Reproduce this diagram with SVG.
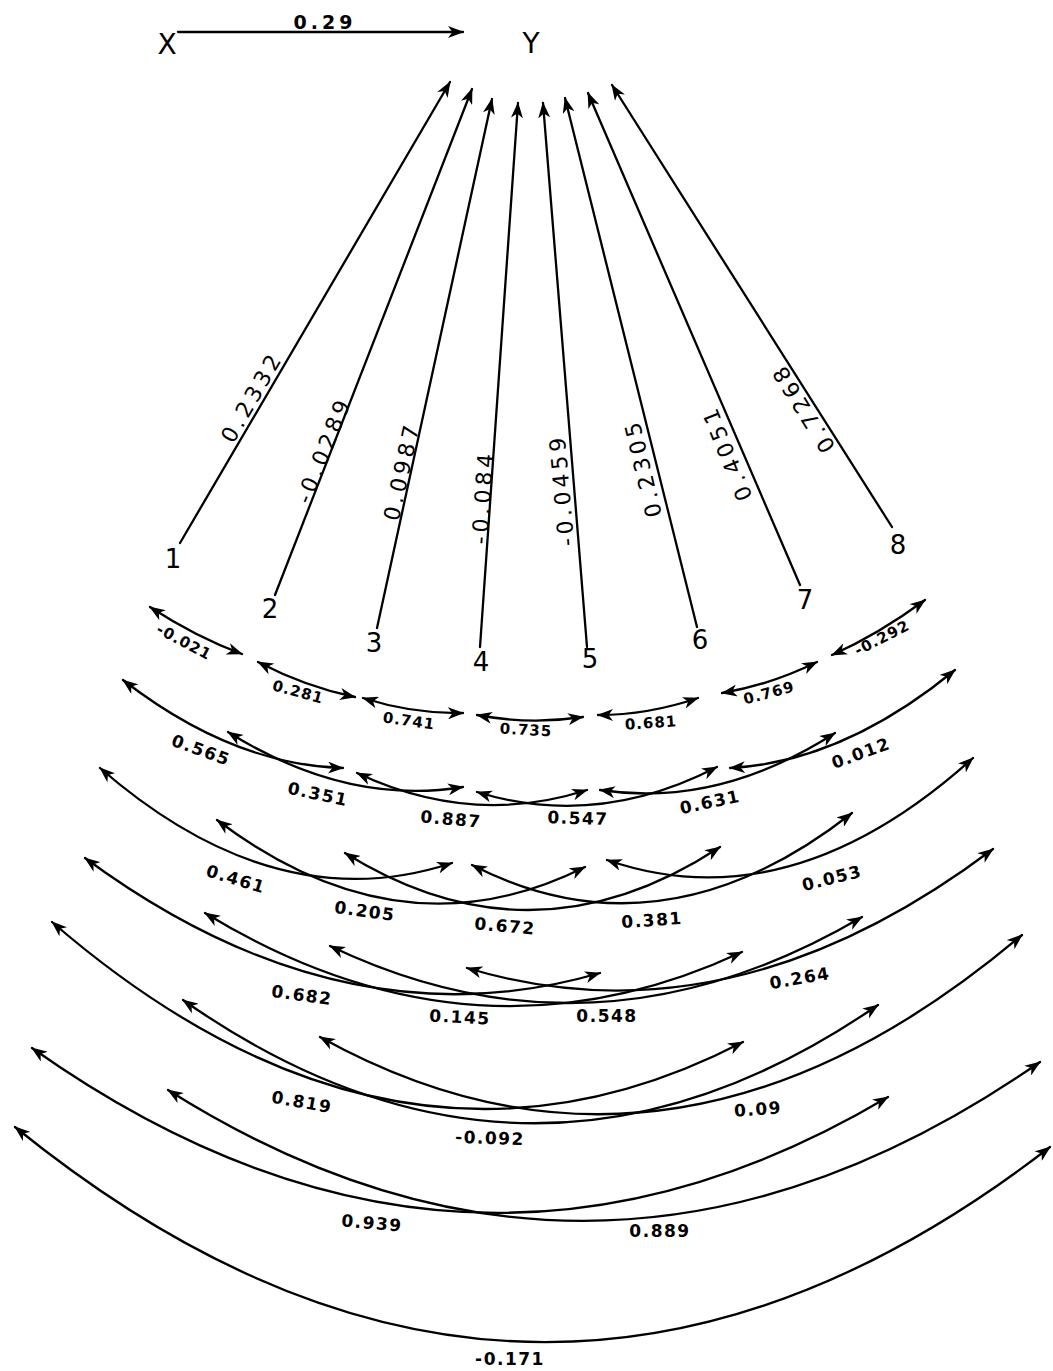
<svg xmlns="http://www.w3.org/2000/svg" width="1053" height="1371" viewBox="0 0 1053 1371">
  <style>
    .ln { fill: none; stroke: #000; stroke-width: 2.3; stroke-linecap: round; }
    .one { marker-end: url(#ah); }
    .two { marker-start: url(#ah); marker-end: url(#ah); }
    text { font-family: "DejaVu Sans", "Liberation Sans", sans-serif; fill: #000; text-anchor: middle; dominant-baseline: central; }
    .node { font-size: 26px; }
    .big { font-size: 28px; }
    .pc { font-size: 22px; letter-spacing: 4px; }
    .c1 { font-size: 15px; font-weight: bold; letter-spacing: 1px; }
    .c { font-size: 17px; font-weight: bold; letter-spacing: 1.5px; }
    .top { font-size: 19px; font-weight: bold; letter-spacing: 4px; }
  </style>
  <defs>
    <marker id="ah" viewBox="0 0 16 12" refX="15" refY="6" markerWidth="16" markerHeight="12" markerUnits="userSpaceOnUse" orient="auto-start-reverse">
      <path d="M0,0 L16,6 L0,12 L4.5,6 Z" fill="#000"/>
    </marker>
  </defs>
  <rect width="1053" height="1371" fill="#fff"/>

  <!-- variables -->
  <g id="node-X"><text class="big" x="167" y="44">X</text></g>
  <g id="node-Y"><text class="big" x="531" y="43">Y</text></g>
  <g id="node-1"><text class="node" x="173" y="559">1</text></g>
  <g id="node-2"><text class="node" x="270" y="609">2</text></g>
  <g id="node-3"><text class="node" x="374" y="643">3</text></g>
  <g id="node-4"><text class="node" x="481" y="662">4</text></g>
  <g id="node-5"><text class="node" x="590" y="659">5</text></g>
  <g id="node-6"><text class="node" x="700" y="640">6</text></g>
  <g id="node-7"><text class="node" x="805" y="600">7</text></g>
  <g id="node-8"><text class="node" x="898" y="545">8</text></g>

  <g id="connectors">
    <!-- direct paths -->
    <path class="ln one" d="M178,32 L463,32"/>
    <path class="ln one" d="M180,543 L450,82"/>
    <path class="ln one" d="M275,595 L472,89"/>
    <path class="ln one" d="M377,628 L492,99"/>
    <path class="ln one" d="M480,647 L518,103"/>
    <path class="ln one" d="M587,647 L543,103"/>
    <path class="ln one" d="M697,627 L565,98"/>
    <path class="ln one" d="M800,585 L588,93"/>
    <path class="ln one" d="M892,527 L612,85"/>

    <!-- correlations, neighbours -->
    <path class="ln two" d="M150,607 Q196,637 242,654"/>
    <path class="ln two" d="M258,662 Q306,687 355,697"/>
    <path class="ln two" d="M363,698 Q413,714 463,713"/>
    <path class="ln two" d="M477,715 Q530,725 583,717"/>
    <path class="ln two" d="M598,715 Q648,715 698,698"/>
    <path class="ln two" d="M722,693 Q770,685 817,662"/>
    <path class="ln two" d="M832,655 Q879,634 925,600"/>

    <!-- two apart -->
    <path class="ln two" d="M123,680 Q233,765 343,768"/>
    <path class="ln two" d="M228,732 Q346,806 463,787"/>
    <path class="ln two" d="M357,773 Q472,827 587,790"/>
    <path class="ln two" d="M477,792 Q597,829 717,767"/>
    <path class="ln two" d="M600,790 Q718,808 835,733"/>
    <path class="ln two" d="M730,768 Q843,762 955,670"/>

    <!-- three apart -->
    <path class="ln two" d="M100,768 Q276,921 452,863"/>
    <path class="ln two" d="M217,820 Q401,959 585,867"/>
    <path class="ln two" d="M345,853 Q533,970 720,847"/>
    <path class="ln two" d="M472,865 Q662,962 852,813"/>
    <path class="ln two" d="M607,860 Q790,923 973,758"/>

    <!-- four apart -->
    <path class="ln two" d="M85,858 Q343,1048 600,973"/>
    <path class="ln two" d="M205,913 Q474,1077 742,952"/>
    <path class="ln two" d="M330,946 Q596,1073 862,917"/>
    <path class="ln two" d="M467,968 Q730,1047 993,849"/>

    <!-- five apart -->
    <path class="ln two" d="M52,922 Q398,1221 743,1042"/>
    <path class="ln two" d="M183,1000 Q531,1244 878,1005"/>
    <path class="ln two" d="M320,1037 Q671,1232 1022,935"/>

    <!-- six and seven apart -->
    <path class="ln two" d="M32,1048 Q460,1351 888,1097"/>
    <path class="ln two" d="M168,1090 Q604,1365 1040,1062"/>
    <path class="ln two" d="M15,1127 Q533,1547 1050,1147"/>
  </g>

  <g id="edge-labels">
    <text class="top" x="325" y="22">0.29</text>

    <text class="pc" transform="translate(252,397) rotate(-60)">0.2332</text>
    <text class="pc" transform="translate(324,450) rotate(-68)">-0.0289</text>
    <text class="pc" transform="translate(402,471) rotate(-77.5)">0.0987</text>
    <text class="pc" transform="translate(483,497) rotate(-86)">-0.084</text>
    <text class="pc" transform="translate(562,490) rotate(-95)">-0.0459</text>
    <text class="pc" transform="translate(643,468) rotate(-103.5)">0.2305</text>
    <text class="pc" transform="translate(727,453) rotate(-112)">0.4051</text>
    <text class="pc" transform="translate(803,408) rotate(-122)">0.7268</text>

    <text class="c1" transform="translate(184,642) rotate(28)">-0.021</text>
    <text class="c1" transform="translate(298,692) rotate(15)">0.281</text>
    <text class="c1" transform="translate(409,721) rotate(8)">0.741</text>
    <text class="c1" transform="translate(526,730) rotate(3)">0.735</text>
    <text class="c1" transform="translate(651,723) rotate(-4)">0.681</text>
    <text class="c1" transform="translate(769,693) rotate(-15)">0.769</text>
    <text class="c1" transform="translate(882,638) rotate(-27)">-0.292</text>

    <text class="c" transform="translate(201,750) rotate(20)">0.565</text>
    <text class="c" transform="translate(318,794) rotate(12)">0.351</text>
    <text class="c" transform="translate(451,819) rotate(5)">0.887</text>
    <text class="c" transform="translate(578,818) rotate(2)">0.547</text>
    <text class="c" transform="translate(710,802) rotate(-12)">0.631</text>
    <text class="c" transform="translate(861,753) rotate(-20)">0.012</text>

    <text class="c" transform="translate(236,879) rotate(17)">0.461</text>
    <text class="c" transform="translate(365,911) rotate(8)">0.205</text>
    <text class="c" transform="translate(505,926) rotate(5)">0.672</text>
    <text class="c" transform="translate(652,920) rotate(-4)">0.381</text>
    <text class="c" transform="translate(832,878) rotate(-14)">0.053</text>

    <text class="c" transform="translate(302,995) rotate(8)">0.682</text>
    <text class="c" transform="translate(460,1017) rotate(3)">0.145</text>
    <text class="c" transform="translate(607,1016)">0.548</text>
    <text class="c" transform="translate(800,978) rotate(-10)">0.264</text>

    <text class="c" transform="translate(302,1102) rotate(10)">0.819</text>
    <text class="c" transform="translate(490,1138) rotate(2)">-0.092</text>
    <text class="c" transform="translate(758,1109) rotate(-4)">0.09</text>

    <text class="c" transform="translate(372,1223) rotate(5)">0.939</text>
    <text class="c" transform="translate(660,1231)">0.889</text>

    <text class="c" x="510" y="1359">-0.171</text>
  </g>
</svg>
